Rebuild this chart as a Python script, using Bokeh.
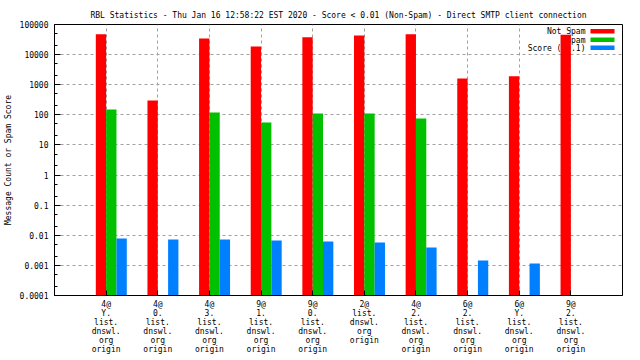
import math
from bokeh.plotting import figure
from bokeh.models import (Range1d, FixedTicker, Label, BoxAnnotation, ColumnDataSource)
from bokeh.transform import dodge
from bokeh.embed import file_html
from bokeh.resources import INLINE

NaN = float("nan")

# ---- data ----
categories = [
    "4@\nY.\nlist.\ndnswl.\norg\norigin",
    "4@\n0.\nlist.\ndnswl.\norg\norigin",
    "4@\n3.\nlist.\ndnswl.\norg\norigin",
    "9@\n1.\nlist.\ndnswl.\norg\norigin",
    "9@\n0.\nlist.\ndnswl.\norg\norigin",
    "2@\nlist.\ndnswl.\norg\norigin",
    "4@\n2.\nlist.\ndnswl.\norg\norigin",
    "6@\n2.\nlist.\ndnswl.\norg\norigin",
    "6@\nY.\nlist.\ndnswl.\norg\norigin",
    "9@\n2.\nlist.\ndnswl.\norg\norigin",
]
not_spam = [47000, 300, 34500, 18700, 37500, 43500, 47000, 1600, 1900, 46000]
spam = [150, NaN, 120, 56, 110, 110, 76, NaN, NaN, NaN]
score = [0.0078, 0.0072, 0.0072, 0.0067, 0.0062, 0.0058, 0.0039, 0.00146, 0.00116, NaN]

y_tick_values = [1e-4, 1e-3, 1e-2, 1e-1, 1.0, 10.0, 100.0, 1000.0, 10000.0, 100000.0]
y_tick_labels = ["0.0001", "0.001", "0.01", "0.1", "1", "10", "100", "1000", "10000", "100000"]
y_minor_values = [m * 10.0 ** k for k in range(-4, 5) for m in (2, 5)]

series_names = ["Not Spam", "Spam", "Score (0..1)"]
series_colors = ["#ff0000", "#00c000", "#0080ff"]
series_offsets = [-0.1, 0.1, 0.3]

title_text = ("RBL Statistics - Thu Jan 16 12:58:22 EST 2020 - Score < 0.01 "
              "(Non-Spam) - Direct SMTP client connection")
y_label = "Message Count or Spam Score"

FONT = "DejaVu Sans Mono"
FS = "8px"

idx = list(range(len(categories)))
src = ColumnDataSource(dict(x=idx, not_spam=not_spam, spam=spam, score=score))

FW, FH = 568, 271
p = figure(frame_width=FW, frame_height=FH,
           x_range=Range1d(-1, 10), y_range=Range1d(1e-4, 1e5),
           y_axis_type="log", output_backend="svg", toolbar_location=None,
           min_border_left=47, min_border_right=9, min_border_top=24,
           min_border_bottom=53, title=title_text)
p.background_fill_color = "white"
p.border_fill_color = "white"
p.outline_line_color = "black"
p.outline_line_width = 1

p.title.text_font = FONT
p.title.text_font_size = FS
p.title.text_font_style = "normal"
p.title.text_color = "black"
p.title.align = "center"
p.title.standoff = 10
p.title.offset = 0

base = y_tick_values[0]
for col, color, off in zip(["not_spam", "spam", "score"], series_colors, series_offsets):
    p.vbar(x=dodge("x", off), top=col, bottom=base, width=0.2, source=src,
           fill_color=color, line_color=None)

xticker = FixedTicker(ticks=idx)
yticker = FixedTicker(ticks=y_tick_values, minor_ticks=y_minor_values)

# x axis (bottom)
xa = p.xaxis[0]
xa.ticker = xticker
xa.major_label_overrides = {i: c for i, c in zip(idx, categories)}
xa.major_label_text_font = FONT
xa.major_label_text_font_size = FS
xa.major_label_text_color = "black"
xa.major_label_text_line_height = 1.0
xa.major_label_standoff = 4
xa.major_tick_in = 5
xa.major_tick_out = 0
xa.minor_tick_in = 0
xa.minor_tick_out = 0
xa.axis_line_color = "black"

# y axis (left)
ya = p.yaxis[0]
ya.ticker = yticker
ya.major_label_overrides = {v: l for v, l in zip(y_tick_values, y_tick_labels)}
ya.major_label_text_font = FONT
ya.major_label_text_font_size = FS
ya.major_label_text_color = "black"
ya.major_label_standoff = 6
ya.major_tick_in = 6
ya.major_tick_out = 0
ya.minor_tick_in = 3
ya.minor_tick_out = 0
ya.axis_label = y_label
ya.axis_label_text_font = FONT
ya.axis_label_text_font_size = FS
ya.axis_label_text_font_style = "normal"
ya.axis_label_text_color = "black"
ya.axis_label_standoff = 4

# grid
for g in (p.xgrid[0], p.ygrid[0]):
    g.grid_line_color = "#a0a0a0"
    g.grid_line_dash = "3 3"
    g.grid_line_width = 1
p.xgrid[0].ticker = xticker
p.ygrid[0].ticker = yticker

# legend (label left of swatch, top right of frame; screen units from frame bottom-left)
row_y = [FH - 7, FH - 15.5, FH - 23.5]
for name, color, ry in zip(series_names, series_colors, row_y):
    p.add_layout(Label(x=FW - 37, y=ry, x_units="screen", y_units="screen",
                       text=name, text_font=FONT, text_font_size=FS,
                       text_color="black",
                       text_align="right", text_baseline="middle", level="underlay"))
    p.add_layout(BoxAnnotation(left=FW - 32, right=FW - 8, bottom=ry - 2, top=ry + 2.5,
                               left_units="screen", right_units="screen",
                               bottom_units="screen", top_units="screen",
                               fill_color=color, fill_alpha=1, line_color=None,
                               level="underlay"))

open("out.html", "w").write(file_html(p, INLINE))
